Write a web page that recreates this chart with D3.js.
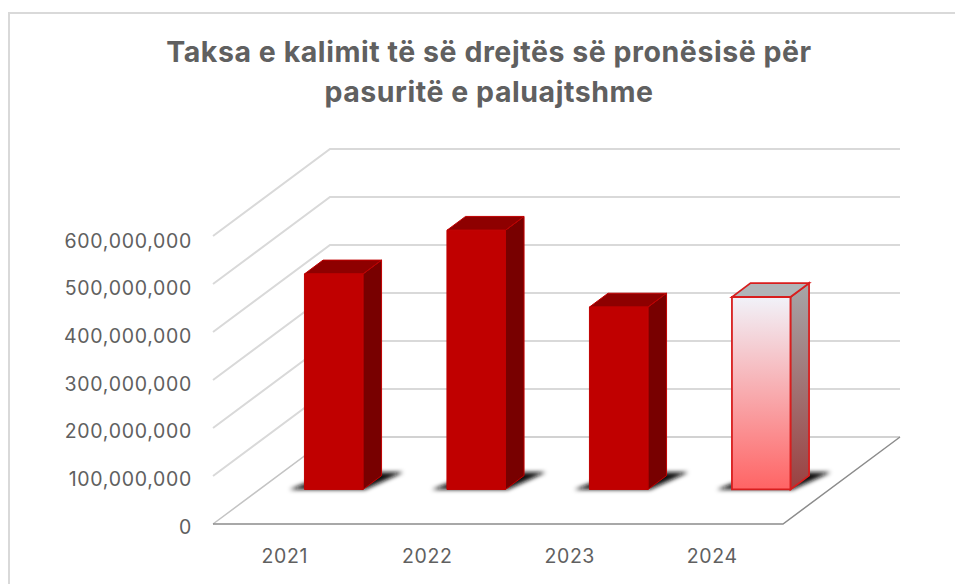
<!DOCTYPE html>
<html>
<head>
<meta charset="utf-8">
<script src="https://cdn.jsdelivr.net/npm/d3@7"></script>
<style>
  body { margin: 0; background: #fff; }
  text { font-family: Inter, sans-serif; fill: #606060; }
</style>
</head>
<body>
<svg id="chart" width="955" height="584"></svg>
<script>
var titleLines = ["Taksa e kalimit të së drejtës së pronësisë për", "pasuritë e paluajtshme"];
var years = ["2021", "2022", "2023", "2024"];
var values = [449000000, 540000000, 380000000, 401000000];
var yTicks = [0, 100000000, 200000000, 300000000, 400000000, 500000000, 600000000];
var lightYear = "2024";

var svg = d3.select("#chart");

// 3d box: front plane + a depth vector going up and to the right
var depthX = 117, depthY = 87;
var x = d3.scaleBand().domain(years).range([213, 783]);
var y = d3.scaleLinear().domain([0, 600000000]).range([524, 236]);
// labels sit a bit off the gridlines in the original
var yLabels = d3.scaleLinear().domain([0, 600000000]).range([527, 241]);
var barFront = 0.397, barBack = 0.556, barWidth = 58.5, barShift = 3;

function project(px, val, depth) {
  return [px + depth * depthX, y(val) - depth * depthY];
}
var line = d3.line();

// frame
svg.append("path")
  .attr("d", "M9,584V13H955")
  .attr("fill", "none")
  .attr("stroke", "#d9d9d9")
  .attr("stroke-width", 2);

// title
svg.selectAll("text.title")
  .data(titleLines)
  .enter()
  .append("text")
  .attr("class", "title")
  .attr("x", 489)
  .attr("y", function(d, i) { return 62 + i * 40; })
  .attr("text-anchor", "middle")
  .attr("font-size", 28.5)
  .attr("font-weight", 700)
  .attr("letter-spacing", 0.55)
  .text(function(d) { return d; });

// defs
var defs = svg.append("defs");
defs.append("filter").attr("id", "soft")
  .attr("x", "-20%").attr("y", "-40%").attr("width", "140%").attr("height", "180%")
  .append("feGaussianBlur").attr("stdDeviation", 2.2);

function gradient(id, top, bottom) {
  var g = defs.append("linearGradient").attr("id", id)
    .attr("x1", 0).attr("y1", 0).attr("x2", 0).attr("y2", 1);
  g.append("stop").attr("offset", "0%").attr("stop-color", top);
  g.append("stop").attr("offset", "100%").attr("stop-color", bottom);
}
gradient("lightFront", "#f1f2f9", "#ff6464");
gradient("lightSide", "#a6a6a8", "#9b4040");

// gridlines, side wall and back wall
var grid = svg.append("g");
yTicks.forEach(function(t) {
  if (t > 0) {
    grid.append("path")
      .attr("d", line([project(213, t, 0), project(213, t, 1), project(783, t, 1)]))
      .attr("fill", "none")
      .attr("stroke", "#d9d9d9")
      .attr("stroke-width", 2);
  }
});

// floor
grid.append("path")
  .attr("d", line([project(213, 0, 0), project(213, 0, 1), project(783, 0, 1)]))
  .attr("fill", "none")
  .attr("stroke", "#c4c4c4")
  .attr("stroke-width", 1.5);
grid.append("path")
  .attr("d", line([project(213, 0, 0), project(783, 0, 0), project(783, 0, 1)]))
  .attr("fill", "none")
  .attr("stroke", "#8c8c8c")
  .attr("stroke-width", 1.5);

// axes
var yAxis = svg.append("g")
  .attr("transform", "translate(201,0)")
  .call(d3.axisLeft(yLabels).tickValues(yTicks).tickSize(0).tickPadding(9).tickFormat(d3.format(",")));
yAxis.select(".domain").remove();
yAxis.selectAll("text")
  .attr("font-size", 19.5)
  .attr("letter-spacing", 0.7)
  .attr("font-family", "Inter");

var xAxis = svg.append("g")
  .attr("transform", "translate(0.5,524)")
  .call(d3.axisBottom(x).tickSize(0).tickPadding(25));
xAxis.select(".domain").remove();
xAxis.selectAll("text")
  .attr("font-size", 19.5)
  .attr("letter-spacing", 0.6)
  .attr("font-family", "Inter");

// bars
var bars = svg.selectAll("g.bar")
  .data(years)
  .enter()
  .append("g")
  .attr("class", "bar");

bars.each(function(year, i) {
  var g = d3.select(this);
  var x0 = x(year) + x.bandwidth() / 2 + barShift - barWidth / 2;
  var x1 = x0 + barWidth;
  var v = values[i];
  var light = year === lightYear;

  // shadow on the floor
  g.append("path")
    .attr("d", line([
      project(x0 - 15, 0, barFront),
      project(x1 + 2, 0, barFront),
      project(x1 + 17, 0, barBack + 0.04),
      project(x0 + 6, 0, barBack + 0.04)
    ]) + "Z")
    .attr("fill", "#111")
    .attr("filter", "url(#soft)");

  var stroke = light ? "#d81e1e" : "#c00000";
  var strokeWidth = light ? 1.8 : 1;

  g.append("path")
    .attr("d", line([
      project(x1, 0, barFront), project(x1, 0, barBack),
      project(x1, v, barBack), project(x1, v, barFront)
    ]) + "Z")
    .attr("fill", light ? "url(#lightSide)" : "#780000")
    .attr("stroke", stroke)
    .attr("stroke-width", strokeWidth);

  g.append("path")
    .attr("d", line([
      project(x0, v, barFront), project(x1, v, barFront),
      project(x1, v, barBack), project(x0, v, barBack)
    ]) + "Z")
    .attr("fill", light ? "#b0b5b8" : "#8e0000")
    .attr("stroke", stroke)
    .attr("stroke-width", strokeWidth);

  g.append("path")
    .attr("d", line([
      project(x0, 0, barFront), project(x1, 0, barFront),
      project(x1, v, barFront), project(x0, v, barFront)
    ]) + "Z")
    .attr("fill", light ? "url(#lightFront)" : "#c00000")
    .attr("stroke", stroke)
    .attr("stroke-width", strokeWidth);
});
</script>
</body>
</html>
